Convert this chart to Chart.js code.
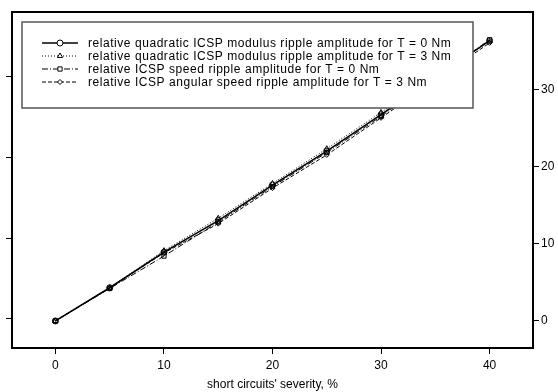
<!DOCTYPE html>
<html>
<head>
<meta charset="utf-8">
<script src="https://cdn.jsdelivr.net/npm/chart.js@4"></script>
<style>
html,body{margin:0;padding:0;background:#fff;}
#wrap{width:558px;height:392px;position:relative;}
</style>
</head>
<body>
<div id="wrap"><canvas id="c" width="558" height="392"></canvas></div>
<script>
// ---- data ----
const severity = [0, 5, 10, 15, 20, 25, 30, 40];
const quadT0  = [0, 4.3, 8.9, 13.0, 17.6, 22.0, 26.7, 36.3];
const quadT3  = [0, 4.3, 9.1, 13.3, 17.8, 22.3, 27.0, 36.2];
const speedT0 = [0, 4.2, 8.4, 12.8, 17.4, 21.8, 26.5, 36.4];
const angT3   = [0, 4.3, 8.8, 12.6, 17.2, 21.5, 26.3, 36.0];
const labels = [
  "relative quadratic ICSP modulus ripple amplitude for T = 0 Nm",
  "relative quadratic ICSP modulus ripple amplitude for T = 3 Nm",
  "relative ICSP speed ripple amplitude for T = 0 Nm",
  "relative ICSP angular speed ripple amplitude for T = 3 Nm"
];
const xTicks = [0, 10, 20, 30, 40];
const yTicks = [0, 10, 20, 30];
const xTitle = "short circuits' severity, %";

Chart.defaults.font.family = "'Liberation Sans', Arial, sans-serif";
Chart.defaults.font.size = 12;
Chart.defaults.color = '#000';

const styles = [
  {pointStyle: 'circle',   dash: [],           width: 1.5, radius: 3},
  {pointStyle: 'triangle', dash: [1, 2],       width: 1,   radius: 3},
  {pointStyle: 'rect',     dash: [6, 2, 1, 2], width: 1,   radius: 3},
  {pointStyle: 'rectRot',  dash: [4, 2],       width: 1,   radius: 2.5}
];
const series = [quadT0, quadT3, speedT0, angT3];

const datasets = series.map((s, i) => ({
  label: labels[i],
  data: severity.map((x, j) => ({x: x, y: s[j]})),
  borderColor: '#000',
  backgroundColor: 'rgba(0,0,0,0)',
  borderWidth: styles[i].width,
  borderDash: styles[i].dash,
  pointStyle: styles[i].pointStyle,
  pointRadius: styles[i].radius,
  pointBorderColor: '#000',
  pointBackgroundColor: 'rgba(0,0,0,0)',
  pointBorderWidth: 1,
  fill: false,
  tension: 0
}));

function fixTicks(vals) {
  return function(scale) { scale.ticks = vals.map(v => ({value: v})); };
}

const boxPlugin = {
  id: 'boxPlugin',
  afterDatasetsDraw(chart) {
    const ctx = chart.ctx;
    const a = chart.chartArea;
    // legend box
    const bx = a.left + 10, by = a.top + 10, bw = 451, bh = 86;
    ctx.save();
    ctx.fillStyle = '#fff';
    ctx.fillRect(bx, by, bw, bh);
    ctx.strokeStyle = '#555';
    ctx.lineWidth = 1.5;
    ctx.strokeRect(bx, by, bw, bh);
    chart.data.datasets.forEach((ds, i) => {
      const cy = by + 21 + i * 13;
      const x0 = bx + 20, x1 = bx + 56, xm = (x0 + x1) / 2;
      ctx.strokeStyle = '#000';
      ctx.lineWidth = ds.borderWidth;
      ctx.setLineDash(ds.borderDash);
      ctx.beginPath();
      ctx.moveTo(x0, cy); ctx.lineTo(x1, cy);
      ctx.stroke();
      ctx.setLineDash([]);
      ctx.fillStyle = '#fff';
      ctx.lineWidth = 1;
      Chart.helpers.drawPoint(ctx, {pointStyle: ds.pointStyle, radius: ds.pointRadius, borderWidth: 1}, xm, cy);
      ctx.fillStyle = '#000';
      ctx.font = "12px 'Liberation Sans', Arial, sans-serif";
      try { ctx.letterSpacing = '0.55px'; } catch (e) {}
      ctx.textBaseline = 'middle';
      ctx.textAlign = 'left';
      ctx.fillText(ds.label, bx + 66, cy + 0.5);
      try { ctx.letterSpacing = '0px'; } catch (e) {}
    });
    // plot frame
    ctx.strokeStyle = '#000';
    ctx.lineWidth = 2;
    ctx.strokeRect(a.left, a.top, a.right - a.left, a.bottom - a.top);
    ctx.restore();
  }
};

new Chart(document.getElementById('c'), {
  type: 'line',
  data: {datasets: datasets},
  options: {
    responsive: false,
    animation: false,
    layout: {padding: {top: 12, left: 0, right: 0, bottom: 0}},
    plugins: {legend: {display: false}, tooltip: {enabled: false}},
    scales: {
      x: {
        type: 'linear', min: -4, max: 44,
        afterBuildTicks: fixTicks(xTicks),
        afterFit(s) { s.height = 44; },
        grid: {drawOnChartArea: false, drawTicks: true, tickLength: 6, color: '#000'},
        border: {display: false},
        ticks: {padding: 4, maxRotation: 0},
        title: {display: true, text: xTitle, padding: {top: 1, bottom: 0}}
      },
      y: {
        type: 'linear', position: 'right', min: -3.5, max: 40,
        afterBuildTicks: fixTicks(yTicks),
        afterFit(s) { s.width = 25; },
        grid: {drawOnChartArea: false, drawTicks: true, tickLength: 6, color: '#000'},
        border: {display: false},
        ticks: {padding: 2}
      },
      yl: {
        type: 'linear', position: 'left', min: -3.6, max: 38.0,
        afterBuildTicks: fixTicks(yTicks),
        afterFit(s) { s.width = 12; },
        grid: {drawOnChartArea: false, drawTicks: true, tickLength: 6, color: '#000'},
        border: {display: false},
        ticks: {display: false}
      }
    }
  },
  plugins: [boxPlugin]
});
</script>
</body>
</html>
